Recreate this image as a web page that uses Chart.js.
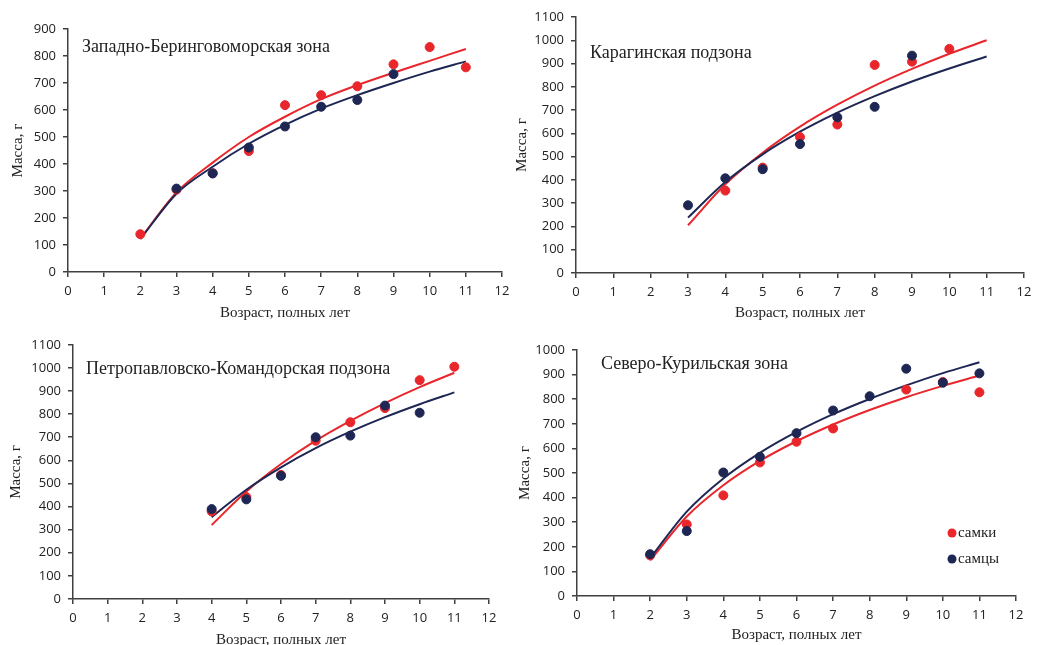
<!DOCTYPE html>
<html>
<head>
<meta charset="utf-8">
<script src="https://cdn.jsdelivr.net/npm/chart.js@4/dist/chart.umd.min.js"></script>
<style>
  html, body { margin: 0; padding: 0; background: #fff; overflow: hidden; width: 1048px; height: 645px; }
  .panel { position: absolute; }
</style>
</head>
<body>
<div class="panel" style="left:0;top:0;width:520px;height:330px"><canvas id="p1"></canvas></div>
<div class="panel" style="left:510px;top:0;width:530px;height:330px"><canvas id="p2"></canvas></div>
<div class="panel" style="left:0;top:330px;width:520px;height:330px"><canvas id="p3"></canvas></div>
<div class="panel" style="left:510px;top:330px;width:530px;height:330px"><canvas id="p4"></canvas></div>
<script>
// Западно-Беринговоморская зона
const p1Age = [2, 3, 4, 5, 6, 7, 8, 9, 10, 11];
const p1Fem = [140, 305, 366, 448, 618, 655, 688, 769, 833, 758];
const p1Male = [null, 309, 365, 461, 539, 612, 637, 733, null, null];
const p1FemFit = [124, 295, 405, 500, 575, 640, 692, 738, 782, 826];
const p1MaleFit = [122, 290, 390, 475, 545, 605, 655, 700, 742, 780];

// Карагинская подзона
const p2Age = [3, 4, 5, 6, 7, 8, 9, 10, 11];
const p2Fem = [null, 354, 453, 584, 638, 894, 908, 963, null];
const p2Male = [291, 407, 446, 554, 669, 714, 934, null, null];
const p2FemFit = [205, 381, 517, 629, 723, 805, 877, 942, 1000];
const p2MaleFit = [238, 391, 510, 607, 689, 760, 823, 879, 930];

// Петропавловско-Командорская подзона
const p3Age = [4, 5, 6, 7, 8, 9, 10, 11];
const p3Fem = [379, 441, 537, 685, 765, 826, 947, 1005];
const p3Male = [389, 431, 533, 700, 707, 837, 806, null];
const p3FemFit = [320, 465, 584, 685, 771, 848, 917, 979];
const p3MaleFit = [354, 473, 570, 653, 724, 787, 843, 894];

// Северо-Курильская зона
const p4Age = [2, 3, 4, 5, 6, 7, 8, 9, 10, 11];
const p4Fem = [165, 291, 409, 543, 627, 681, null, 839, 870, 828];
const p4Male = [170, 264, 502, 566, 662, 754, 812, 924, 867, 905];
const p4FemFit = [145, 323, 450, 549, 629, 697, 756, 808, 854, 896];
const p4MaleFit = [154, 343, 478, 582, 667, 739, 801, 856, 906, 950];

const legendLabels = ['самки', 'самцы'];
const xTitle = 'Возраст, полных лет';
const yTitle = 'Масса, г';

const RED = '#e8262b';
const NAVY = '#1e2753';
const AXIS = '#404040';
const TICK_FONT = { family: '"Open Sans", sans-serif', size: 13 };
const SERIF = '"Liberation Serif", "Times New Roman", serif';

function pts(ages, vals) {
    const out = [];
    ages.forEach((a, i) => {
        if (vals[i] !== null) out.push({ x: a, y: vals[i] });
    });
    return out;
}

// подписи внутри области графика
const labelsPlugin = {
    id: 'panelLabels',
    afterDraw(chart, args, opts) {
        const ctx = chart.ctx;
        ctx.save();
        ctx.fillStyle = '#222';
        ctx.textBaseline = 'middle';
        ctx.textAlign = 'left';
        ctx.font = opts.titleSize + 'px ' + SERIF;
        ctx.fillText(opts.title, opts.tx, opts.ty);
        if (opts.legend) {
            const lg = opts.legend;
            [RED, NAVY].forEach((c, i) => {
                const y = lg.y + i * lg.gap;
                ctx.beginPath();
                ctx.arc(lg.x, y, 4.5, 0, Math.PI * 2);
                ctx.fillStyle = c;
                ctx.fill();
                ctx.fillStyle = '#222';
                ctx.font = '15px ' + SERIF;
                ctx.fillText(legendLabels[i], lg.x + 6, y);
            });
        }
        ctx.restore();
    }
};

function makePanel(id, p) {
    const ctx = document.getElementById(id).getContext('2d');
    new Chart(ctx, {
        type: 'scatter',
        data: {
            datasets: [
                {
                    label: legendLabels[0],
                    data: pts(p.age, p.fem),
                    backgroundColor: RED,
                    borderColor: RED,
                    pointRadius: 4.5,
                    order: 1
                },
                {
                    label: legendLabels[1],
                    data: pts(p.age, p.male),
                    backgroundColor: NAVY,
                    borderColor: NAVY,
                    pointRadius: 4.5,
                    order: 0
                },
                {
                    label: 'тренд самки',
                    type: 'line',
                    data: pts(p.age, p.femFit),
                    borderColor: RED,
                    borderWidth: 2,
                    pointRadius: 0,
                    cubicInterpolationMode: 'monotone',
                    order: 3
                },
                {
                    label: 'тренд самцы',
                    type: 'line',
                    data: pts(p.age, p.maleFit),
                    borderColor: NAVY,
                    borderWidth: 2,
                    pointRadius: 0,
                    cubicInterpolationMode: 'monotone',
                    order: 2
                }
            ]
        },
        options: {
            responsive: true,
            maintainAspectRatio: false,
            animation: false,
            layout: { padding: p.pad },
            plugins: {
                legend: { display: false },
                tooltip: { enabled: false },
                panelLabels: p.labels
            },
            scales: {
                x: {
                    type: 'linear',
                    min: 0,
                    max: 12,
                    ticks: { stepSize: 1, color: '#222', font: TICK_FONT, padding: 6,
                             callback: v => String(v) },
                    grid: { drawOnChartArea: false, drawTicks: true, tickLength: 5, color: AXIS, lineWidth: 1.5 },
                    border: { color: AXIS, width: 1.5 },
                    title: {
                        display: true,
                        text: xTitle,
                        color: '#222',
                        font: { family: SERIF, size: 15 },
                        padding: { top: 0, bottom: p.xTitlePad }
                    },
                    afterFit(scale) { scale.height = p.xH; }
                },
                y: {
                    min: 0,
                    max: p.yMax,
                    ticks: { stepSize: 100, color: '#222', font: TICK_FONT, padding: 7,
                             callback: v => String(v) },
                    grid: { drawOnChartArea: false, drawTicks: true, tickLength: 5, color: AXIS, lineWidth: 1.5 },
                    border: { color: AXIS, width: 1.5 },
                    title: {
                        display: true,
                        text: yTitle,
                        color: '#222',
                        font: { family: SERIF, size: 15 },
                        padding: { top: p.yTitlePad, bottom: 0 }
                    },
                    afterFit(scale) { scale.width = p.yW; }
                }
            }
        },
        plugins: [labelsPlugin]
    });
}

makePanel('p1', {
    age: p1Age, fem: p1Fem, male: p1Male, femFit: p1FemFit, maleFit: p1MaleFit,
    yMax: 900, yW: 68, xH: 58, xTitlePad: 8, yTitlePad: 9,
    pad: { top: 29, right: 18, left: 0, bottom: 0 },
    labels: { title: 'Западно-Беринговоморская зона', tx: 82, ty: 47, titleSize: 18 }
});
makePanel('p2', {
    age: p2Age, fem: p2Fem, male: p2Male, femFit: p2FemFit, maleFit: p2MaleFit,
    yMax: 1100, yW: 66, xH: 57, xTitlePad: 8, yTitlePad: 3,
    pad: { top: 17, right: 16, left: 0, bottom: 0 },
    labels: { title: 'Карагинская подзона', tx: 80, ty: 53, titleSize: 18 }
});
makePanel('p3', {
    age: p3Age, fem: p3Fem, male: p3Male, femFit: p3FemFit, maleFit: p3MaleFit,
    yMax: 1100, yW: 73, xH: 61, xTitlePad: 11, yTitlePad: 7,
    pad: { top: 14, right: 31, left: 0, bottom: 0 },
    labels: { title: 'Петропавловско-Командорская подзона', tx: 86, ty: 39, titleSize: 18 }
});
makePanel('p4', {
    age: p4Age, fem: p4Fem, male: p4Male, femFit: p4FemFit, maleFit: p4MaleFit,
    yMax: 1000, yW: 67, xH: 64, xTitlePad: 16, yTitlePad: 6,
    pad: { top: 20, right: 24, left: 0, bottom: 0 },
    labels: { title: 'Северо-Курильская зона', tx: 91, ty: 34, titleSize: 18,
              legend: { x: 442, y: 203, gap: 26 } }
});
</script>
</body>
</html>
